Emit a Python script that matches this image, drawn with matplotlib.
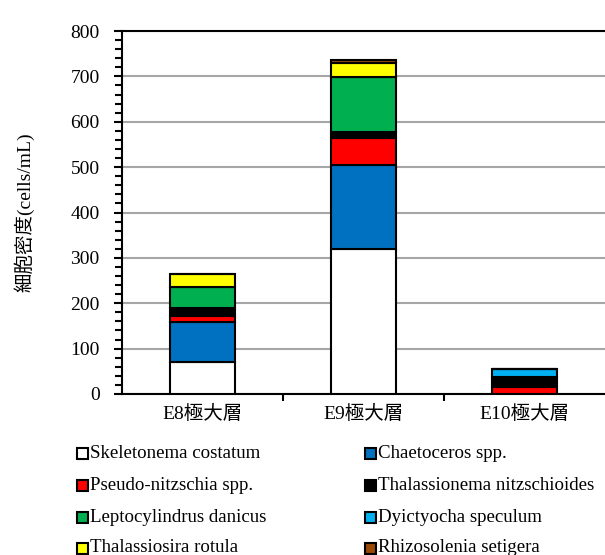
#!/usr/bin/env python3
"""Stacked bar chart of phytoplankton cell density at the chlorophyll maximum layer."""

import matplotlib

matplotlib.use("Agg")
import matplotlib.pyplot as plt
import numpy as np
from matplotlib.patches import Rectangle
from matplotlib.ticker import MultipleLocator

plt.rcParams["font.family"] = ["Liberation Serif", "Noto Sans CJK JP"]

stations = ["E8極大層", "E9極大層", "E10極大層"]
species = [
    "Skeletonema costatum",
    "Chaetoceros spp.",
    "Pseudo-nitzschia spp.",
    "Thalassionema nitzschioides",
    "Leptocylindrus danicus",
    "Dyictyocha speculum",
    "Thalassiosira rotula",
    "Rhizosolenia setigera",
]
colors = ["#FFFFFF", "#0070C0", "#FF0000", "#000000",
          "#00B050", "#00B0F0", "#FFFF00", "#984807"]

# cells/mL per station (E8, E9, E10)
skeletonema = [70, 320, 0]
chaetoceros = [88, 185, 0]
pseudo_nitzschia = [15, 60, 16]
thalassionema = [17, 12, 22]
leptocylindrus = [45, 122, 0]
dictyocha = [0, 0, 17]
thalassiosira = [30, 30, 0]
rhizosolenia = [0, 6, 0]

series = [skeletonema, chaetoceros, pseudo_nitzschia, thalassionema,
          leptocylindrus, dictyocha, thalassiosira, rhizosolenia]

fig = plt.figure(figsize=(6.05, 5.55), dpi=100)
ax = fig.add_axes([122 / 605, 161 / 555, 483 / 605, 363 / 555])

x = np.arange(len(stations))
bottom = np.zeros(len(stations))
for values, color in zip(series, colors):
    vals = np.array(values, dtype=float)
    ax.bar(x, vals, width=0.4, bottom=bottom, color=color,
           edgecolor="black", linewidth=1.5, zorder=3)
    bottom += vals

ax.set_xlim(-0.5, len(stations) - 0.5)
ax.set_ylim(0, 800)
ax.yaxis.set_major_locator(MultipleLocator(100))
ax.yaxis.set_minor_locator(MultipleLocator(20))
ax.grid(axis="y", which="major", color="#a6a6a6", linewidth=1.5, zorder=0)

# category labels centred, ticks drawn between categories
ax.set_xticks(x)
ax.set_xticklabels(stations, fontsize=14)
ax.tick_params(axis="x", which="major", length=0, pad=8)
ax.set_xticks(x[:-1] + 0.5, minor=True)
ax.tick_params(axis="x", which="minor", length=5, width=1.5, direction="out")

ax.tick_params(axis="y", which="major", length=6, width=1.5, labelsize=14, pad=10)
ax.tick_params(axis="y", which="minor", length=5, width=1.5)

for side in ("left", "bottom", "top"):
    ax.spines[side].set_linewidth(1.5)
ax.spines["right"].set_visible(False)

ax.set_ylabel("細胞密度(cells/mL)", fontsize=14, labelpad=26)

# legend: two columns, row-major order
col_x = [82, 370]
row_y = [453, 485, 517, 548]
box = 11
for i, (name, color) in enumerate(zip(species, colors)):
    cx = col_x[i % 2]
    cy = row_y[i // 2]
    fig.patches.append(Rectangle(
        ((cx - box / 2) / 605, (555 - cy - box / 2) / 555), box / 605, box / 555,
        transform=fig.transFigure, facecolor=color, edgecolor="black",
        linewidth=1.5, figure=fig))
    fig.text((cx + box / 2 + 2) / 605, (555 - cy) / 555, name,
             fontsize=13.6, va="center", ha="left")

fig.savefig("out.png", dpi=100)
